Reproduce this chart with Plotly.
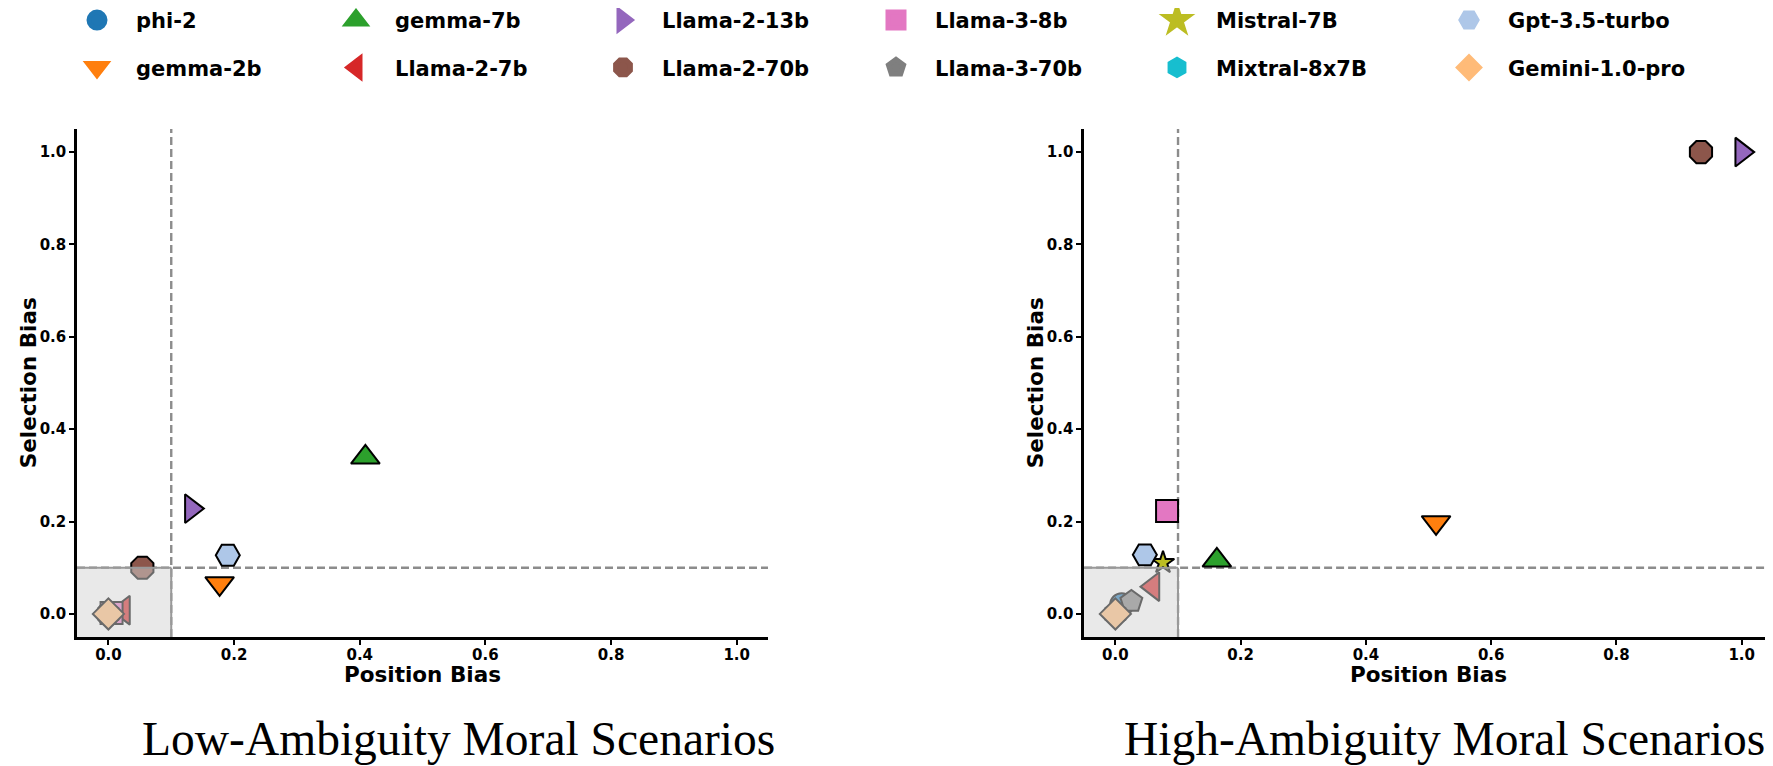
import plotly.graph_objects as go

# ---------------- data ----------------
models = ["phi-2", "gemma-2b", "gemma-7b", "Llama-2-7b", "Llama-2-13b", "Llama-2-70b",
          "Llama-3-8b", "Llama-3-70b", "Mistral-7B", "Mixtral-8x7B", "Gpt-3.5-turbo", "Gemini-1.0-pro"]
colors = ["#1f77b4", "#ff7f0e", "#2ca02c", "#d62728", "#9467bd", "#8c564b",
          "#e377c2", "#7f7f7f", "#bcbd22", "#17becf", "#aec7e8", "#ffbb78"]
symbols = ["circle", "triangle-down", "triangle-up", "triangle-left", "triangle-right", "octagon",
           "square", "pentagon", "star", "hexagon", "hexagon2", "diamond"]

# Low-Ambiguity Moral Scenarios
low_position = [0.0, 0.177, 0.409, 0.024, 0.132, 0.054, 0.005, 0.0, 0.0, 0.0, 0.19, 0.0]
low_selection = [0.0, 0.066, 0.339, 0.008, 0.228, 0.100, 0.002, 0.0, 0.0, 0.0, 0.127, 0.0]

# High-Ambiguity Moral Scenarios
high_position = [0.010, 0.512, 0.162, 0.060, 1.0, 0.935, 0.0825, 0.0255, 0.076, 0.0, 0.047, 0.0]
high_selection = [0.020, 0.198, 0.116, 0.059, 1.0, 1.0, 0.223, 0.027, 0.111, 0.0, 0.128, 0.0]

tick_vals = [0.0, 0.2, 0.4, 0.6, 0.8, 1.0]
tick_text = ["0.0", "0.2", "0.4", "0.6", "0.8", "1.0"]
threshold = 0.1
subtitles = ["Low-Ambiguity Moral Scenarios", "High-Ambiguity Moral Scenarios"]
x_title = "Position Bias"
y_title = "Selection Bias"

# ---------------- styling ----------------
sizes = [23, 25, 25, 25, 25, 24, 22, 23, 17, 23, 24, 24]
OFF = 8                      # page body margin of the html page
W, H = 1773 - OFF, 766 - OFF
ML, MR, MT, MB = 69, 0, 121, 129
PW, PH = W - ML - MR, H - MT - MB
bold = "DejaVu Sans"


def px_to_paper_x(sx):
    return (sx - OFF - ML) / PW


def px_to_paper_y(sy):
    return (H - MB - (sy - OFF)) / PH


fig = go.Figure()

panels = [("x", "y", low_position, low_selection), ("x2", "y2", high_position, high_selection)]
for xa, ya, px, py in panels:
    for i, m in enumerate(models):
        fig.add_trace(go.Scatter(
            x=[px[i]], y=[py[i]], xaxis=xa, yaxis=ya, mode="markers", name=m,
            marker=dict(symbol=symbols[i], color=colors[i], size=sizes[i],
                        line=dict(color="black", width=2)),
            showlegend=False))

# legend: 6 columns x 2 rows, column-major as in the reference
col_px = [97, 356, 623, 896, 1177, 1469]
row_px = [20.4, 67.8]
ITEMW = 68
layout_legends = {}
for i, m in enumerate(models):
    key = "legend" if i == 0 else f"legend{i + 1}"
    fig.add_trace(go.Scatter(
        x=[None], y=[None], mode="markers", name=m, legend=key, showlegend=True,
        marker=dict(symbol=symbols[i], color=colors[i], size=16,
                    line=dict(color=colors[i], width=5))))
    c, r = i // 2, i % 2
    layout_legends[key] = dict(
        x=px_to_paper_x(col_px[c] - (ITEMW + 10) / 2), y=px_to_paper_y(row_px[r]),
        xanchor="left", yanchor="middle", itemwidth=ITEMW, itemsizing="trace",
        bgcolor="rgba(0,0,0,0)", borderwidth=0,
        font=dict(family=bold, size=21, color="black", weight="bold"))

axis_common = dict(range=[-0.05, 1.05], showline=True, linecolor="black", linewidth=2.5,
                   ticks="outside", ticklen=5, tickwidth=1.5, tickcolor="black",
                   showgrid=False, zeroline=False, tickvals=tick_vals, ticktext=tick_text,
                   tickfont=dict(family=bold, size=15, color="black", weight="bold"),
                   automargin=False)
title_font = dict(family=bold, size=21.5, color="black", weight="bold")

fig.update_layout(
    width=W, height=H, margin=dict(l=ML, r=MR, t=MT, b=MB, autoexpand=False),
    paper_bgcolor="white", plot_bgcolor="white",
    xaxis=dict(domain=[0, 0.4075], anchor="y", ticklabelstandoff=-3, **axis_common),
    yaxis=dict(domain=[0, 1], anchor="x", **axis_common),
    xaxis2=dict(domain=[0.5938, 1.0], anchor="y2", ticklabelstandoff=-3, **axis_common),
    yaxis2=dict(domain=[0, 1], anchor="x2", **axis_common),
    **layout_legends,
)

shapes = []
for xr, yr in [("x", "y"), ("x2", "y2")]:
    # dashed threshold lines
    shapes.append(dict(type="line", xref=xr, yref=yr, x0=threshold, x1=threshold, y0=-0.05, y1=1.05,
                       line=dict(color="#8c8c8c", width=2.4, dash="8px,4px"), layer="below"))
    shapes.append(dict(type="line", xref=xr, yref=yr, x0=-0.05, x1=1.05, y0=threshold, y1=threshold,
                       line=dict(color="#8c8c8c", width=2.4, dash="8px,4px"), layer="below"))
    # shaded low-bias region (drawn above markers)
    shapes.append(dict(type="rect", xref=xr, yref=yr, x0=-0.05, x1=threshold, y0=-0.05, y1=threshold,
                       fillcolor="rgba(211,211,211,0.5)", line=dict(width=0), layer="above"))
    shapes.append(dict(type="line", xref=xr, yref=yr, x0=-0.05, x1=threshold, y0=threshold, y1=threshold,
                       line=dict(color="#999999", width=2), layer="above"))
    shapes.append(dict(type="line", xref=xr, yref=yr, x0=threshold, x1=threshold, y0=-0.05, y1=threshold,
                       line=dict(color="#999999", width=2), layer="above"))
fig.update_layout(shapes=shapes)

# axis titles
for xr in ["x domain", "x2 domain"]:
    fig.add_annotation(text=x_title, xref=xr, yref="paper", x=0.5, y=px_to_paper_y(674),
                       xanchor="center", yanchor="middle", showarrow=False, font=title_font)
for sx in [28.3, 1035.3]:
    fig.add_annotation(text=y_title, xref="paper", yref="paper", x=px_to_paper_x(sx), y=0.5,
                       xanchor="center", yanchor="middle", showarrow=False, textangle=-90,
                       font=title_font)

# panel captions
for sx, txt in zip([458, 1444], subtitles):
    fig.add_annotation(text=txt, xref="paper", yref="paper", x=px_to_paper_x(sx), y=px_to_paper_y(739),
                       xanchor="center", yanchor="middle", showarrow=False,
                       font=dict(family="Liberation Serif", size=47.5, color="black"))

fig.write_html("out.html")
